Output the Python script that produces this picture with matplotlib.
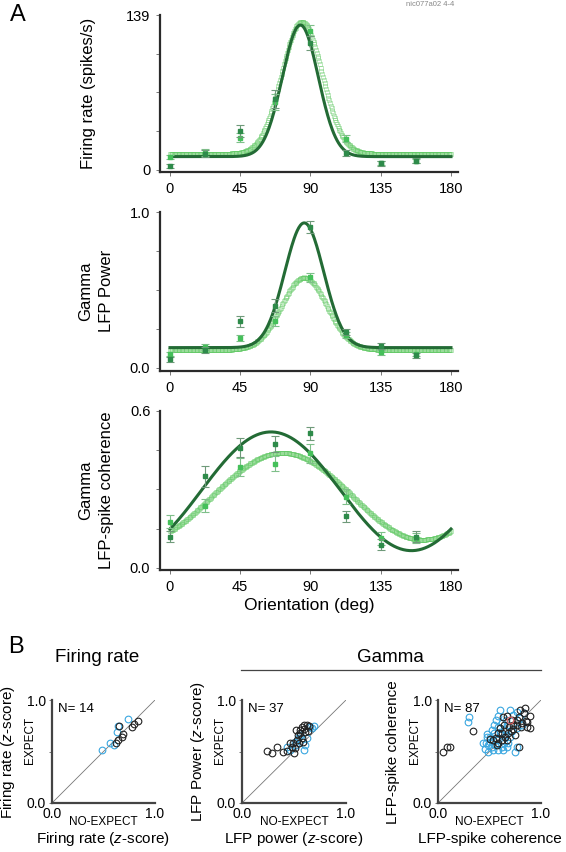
"""
Orientation tuning (panel A) and EXPECT vs NO-EXPECT scatter (panel B)
"""

import numpy as np
import matplotlib.pyplot as plt

plt.rcParams.update({
    "font.family": ["Liberation Sans", "DejaVu Sans"],
    "mathtext.fontset": "custom",
    "mathtext.it": "Liberation Sans:italic",
    "mathtext.rm": "Liberation Sans",
    "axes.linewidth": 1.6,
})

# data
ORI = [0, 22.5, 45, 67.5, 90, 112.5, 135, 157.5]

FR_DARK      = [3.6, 14.5, 35.0, 64.0, 114.0, 15.0, 6.0, 8.5]
FR_DARK_ERR  = [2.0, 3.0, 5.0, 8.0, 6.0, 2.5, 2.0, 2.0]
FR_LIGHT     = [11.7, 15.5, 29.0, 61.0, 125.0, 28.0, 6.5, 8.0]
FR_LIGHT_ERR = [2.0, 3.0, 4.0, 7.0, 5.0, 3.0, 2.0, 2.0]

LFP_DARK      = [0.055, 0.115, 0.30, 0.40, 0.905, 0.23, 0.14, 0.08]
LFP_DARK_ERR  = [0.015, 0.02, 0.035, 0.04, 0.04, 0.02, 0.02, 0.015]
LFP_LIGHT     = [0.09, 0.135, 0.19, 0.30, 0.58, 0.21, 0.10, 0.09]
LFP_LIGHT_ERR = [0.015, 0.02, 0.02, 0.03, 0.03, 0.02, 0.015, 0.015]

COH_DARK      = [0.12, 0.35, 0.46, 0.473, 0.514, 0.197, 0.089, 0.12]
COH_DARK_ERR  = [0.02, 0.04, 0.035, 0.03, 0.025, 0.02, 0.02, 0.02]
COH_LIGHT     = [0.177, 0.237, 0.386, 0.399, 0.438, 0.273, 0.114, 0.115]
COH_LIGHT_ERR = [0.025, 0.025, 0.035, 0.03, 0.035, 0.03, 0.025, 0.02]

# fit parameters: base, amplitude, centre (deg), width (deg)
FR_FIT_DARK   = [12.0, 118.0, 83.5, 11.5]
FR_FIT_LIGHT  = [14.5, 118.5, 84.5, 13.0]
LFP_FIT_DARK  = [0.13, 0.80, 86.0, 12.5]
LFP_FIT_LIGHT = [0.115, 0.465, 86.0, 14.5]
# coherence: base, amplitude, preferred orientation (deg)
COH_FIT_DARK  = [0.293, 0.227, 64.7]
COH_FIT_LIGHT = [0.274, 0.166, 72.0]

# panel B scatter (NO-EXPECT, EXPECT)
FR_BLUE_X  = [0.489, 0.563, 0.605, 0.628, 0.644, 0.735]
FR_BLUE_Y  = [0.515, 0.585, 0.563, 0.692, 0.750, 0.812]
FR_BLACK_X = [0.618, 0.637, 0.676, 0.692, 0.654, 0.773, 0.799, 0.832]
FR_BLACK_Y = [0.579, 0.612, 0.644, 0.667, 0.750, 0.741, 0.764, 0.796]

LFP_BLUE_X  = [0.43, 0.46, 0.51, 0.54, 0.596, 0.606, 0.622, 0.67, 0.692, 0.558, 0.52, 0.65]
LFP_BLUE_Y  = [0.54, 0.515, 0.595, 0.628, 0.515, 0.563, 0.628, 0.725, 0.748, 0.66, 0.56, 0.74]
LFP_BLACK_X = [0.243, 0.285, 0.34, 0.397, 0.436, 0.478, 0.494, 0.51, 0.526, 0.54, 0.558,
               0.519, 0.574, 0.596, 0.622, 0.647, 0.606, 0.574, 0.59, 0.46, 0.545, 0.5,
               0.56, 0.60, 0.63]
LFP_BLACK_Y = [0.508, 0.482, 0.547, 0.498, 0.508, 0.547, 0.58, 0.53, 0.612, 0.66, 0.709,
               0.709, 0.741, 0.757, 0.757, 0.748, 0.692, 0.628, 0.595, 0.585, 0.58, 0.482,
               0.68, 0.72, 0.70]

COH_BLUE_X = [0.303, 0.293, 0.456, 0.489, 0.466, 0.505, 0.472, 0.521, 0.544, 0.564, 0.586,
              0.603, 0.554, 0.586, 0.619, 0.642, 0.531, 0.570, 0.609, 0.651, 0.619, 0.661,
              0.700, 0.733, 0.765, 0.792, 0.831, 0.700, 0.749, 0.765, 0.684, 0.505, 0.544,
              0.586, 0.668, 0.765, 0.489, 0.635, 0.668, 0.440, 0.521, 0.814, 0.60, 0.53,
              0.72, 0.48, 0.66]
COH_BLUE_Y = [0.838, 0.789, 0.529, 0.497, 0.578, 0.643, 0.669, 0.708, 0.756, 0.805, 0.844,
              0.903, 0.562, 0.513, 0.539, 0.584, 0.513, 0.610, 0.659, 0.708, 0.773, 0.805,
              0.903, 0.854, 0.886, 0.821, 0.870, 0.643, 0.497, 0.545, 0.578, 0.594, 0.675,
              0.740, 0.756, 0.724, 0.562, 0.513, 0.545, 0.578, 0.545, 0.756, 0.69, 0.60,
              0.70, 0.64, 0.66]
COH_BLACK_X = [0.049, 0.088, 0.114, 0.342, 0.564, 0.586, 0.619, 0.651, 0.684, 0.726, 0.765,
               0.805, 0.863, 0.889, 0.837, 0.847, 0.896, 0.635, 0.668, 0.717, 0.782, 0.603,
               0.642, 0.694, 0.733, 0.570, 0.537, 0.619, 0.668, 0.782, 0.814, 0.863, 0.765,
               0.505, 0.710, 0.798, 0.58, 0.75, 0.85]
COH_BLACK_Y = [0.497, 0.545, 0.539, 0.701, 0.627, 0.578, 0.610, 0.643, 0.675, 0.714, 0.756,
               0.734, 0.789, 0.724, 0.870, 0.919, 0.844, 0.838, 0.844, 0.805, 0.838, 0.727,
               0.756, 0.740, 0.756, 0.562, 0.610, 0.675, 0.610, 0.539, 0.773, 0.740, 0.805,
               0.617, 0.701, 0.903, 0.68, 0.66, 0.80]
COH_RED_X = [0.70]
COH_RED_Y = [0.805]

DARK_LINE  = '#236b35'
DARK_PT    = '#2e8b4a'
LIGHT_LINE = '#62c965'
LIGHT_PT   = '#45c05a'
BLUE       = '#3aa7e0'
SPINE      = '#2a2a2a'

def gauss(th, p):
    return p[0] + p[1] * np.exp(-(th - p[2])**2 / (2 * p[3]**2))

def cosfit(th, p):
    return p[0] + p[1] * np.cos(np.deg2rad(2 * (th - p[2])))

W, H = 566, 852
fig = plt.figure(figsize=(W / 100, H / 100), dpi=100)

def rect(x0, y0, x1, y1):
    return [x0 / W, 1 - y1 / H, (x1 - x0) / W, (y1 - y0) / H]

def style_tuning(ax, ymax, ylabels):
    for s in ('top', 'right'):
        ax.spines[s].set_visible(False)
    for s in ('left', 'bottom'):
        ax.spines[s].set_color(SPINE)
    ax.set_xlim(-6.4, 184.5)
    ax.set_xticks([0, 45, 90, 135, 180])
    ax.set_yticks(np.linspace(0, ymax, 5))
    ax.set_yticklabels([ylabels[0], '', '', '', ylabels[1]])
    ax.tick_params(direction='out', length=3, width=0.7, color='#777777',
                   labelsize=10.5, pad=4)

th = np.linspace(0, 180, 361)
panels = [
    (rect(160, 15, 458, 172), 139, ('0', '139'), (-1.8, 139),
     FR_DARK, FR_DARK_ERR, FR_LIGHT, FR_LIGHT_ERR,
     gauss(th, FR_FIT_DARK), gauss(th, FR_FIT_LIGHT)),
    (rect(160, 212, 458, 371), 1.0, ('0.0', '1.0'), (-0.02, 1.0),
     LFP_DARK, LFP_DARK_ERR, LFP_LIGHT, LFP_LIGHT_ERR,
     gauss(th, LFP_FIT_DARK), gauss(th, LFP_FIT_LIGHT)),
    (rect(160, 411, 458, 570), 0.6, ('0.0', '0.6'), (-0.008, 0.6),
     COH_DARK, COH_DARK_ERR, COH_LIGHT, COH_LIGHT_ERR,
     cosfit(th, COH_FIT_DARK), cosfit(th, COH_FIT_LIGHT)),
]

axes_a = []
for r, ymax, ylab, ylim, yd, ed, yl, el, fd, fl in panels:
    ax = fig.add_axes(r)
    ax.plot(th, fl, linestyle='none', marker='s', ms=3.0, mfc='none',
            mec=LIGHT_LINE, mew=0.45, alpha=0.65, zorder=2)
    ax.plot(th, fd, color=DARK_LINE, lw=2.2, zorder=3)
    ax.errorbar(ORI, yl, yerr=el, fmt='s', ms=3.5, color=LIGHT_PT,
                ecolor='#7fbf8a', elinewidth=0.8, capsize=3, capthick=0.8, zorder=4)
    ax.errorbar(ORI, yd, yerr=ed, fmt='s', ms=3.5, color=DARK_PT,
                ecolor='#6f9a7a', elinewidth=0.8, capsize=3, capthick=0.8, zorder=5)
    ax.set_ylim(*ylim)
    style_tuning(ax, ymax, ylab)
    axes_a.append(ax)

axes_a[2].set_xlabel('Orientation (deg)', fontsize=12.5, labelpad=3)

fig.text(88 / W, 1 - 93 / H, 'Firing rate (spikes/s)', rotation=90,
         ha='center', va='center', fontsize=12)
fig.text(96 / W, 1 - 291 / H, 'Gamma\nLFP Power', rotation=90, ha='center',
         va='center', fontsize=12, linespacing=1.45, multialignment='center')
fig.text(96 / W, 1 - 490 / H, 'Gamma\nLFP-spike coherence', rotation=90, ha='center',
         va='center', fontsize=12, linespacing=1.45, multialignment='center')

fig.text(10 / W, 1 - 15 / H, 'A', fontsize=17, ha='left', va='center')
fig.text(430 / W, 1 - 5 / H, 'nic077a02 4-4', fontsize=5.5, color='#888888',
         ha='center', va='center')

# panel B
fig.text(8 / W, 1 - 647 / H, 'B', fontsize=17, ha='left', va='center')
fig.text(97 / W, 1 - 657 / H, 'Firing rate', fontsize=13.5, ha='center', va='center')
fig.text(390 / W, 1 - 657 / H, 'Gamma', fontsize=13.5, ha='center', va='center')
fig.add_artist(plt.Line2D([241 / W, 541 / W], [1 - 670 / H, 1 - 670 / H],
                          color='#444444', lw=0.9))

scatter_panels = [
    (rect(52, 700, 155, 803), 'N= 14', r'Firing rate ($\mathit{z}$-score)',
     r'Firing rate ($\mathit{z}$-score)', 8, 30,
     FR_BLUE_X, FR_BLUE_Y, FR_BLACK_X, FR_BLACK_Y, [], []),
    (rect(242, 700, 346, 803), 'N= 37', r'LFP Power ($\mathit{z}$-score)',
     r'LFP power ($\mathit{z}$-score)', 198, 220,
     LFP_BLUE_X, LFP_BLUE_Y, LFP_BLACK_X, LFP_BLACK_Y, [], []),
    (rect(438, 700, 541, 803), 'N= 87', 'LFP-spike coherence',
     'LFP-spike coherence', 393, 415,
     COH_BLUE_X, COH_BLUE_Y, COH_BLACK_X, COH_BLACK_Y, COH_RED_X, COH_RED_Y),
]

for r, ntxt, ylab, xlab, ylx, exx, bx, by, kx, ky, rx, ry in scatter_panels:
    ax = fig.add_axes(r)
    for s in ('top', 'right'):
        ax.spines[s].set_visible(False)
    for s in ('left', 'bottom'):
        ax.spines[s].set_color('#444444')
    ax.set_xlim(0, 1)
    ax.set_ylim(0, 1)
    ax.plot([0, 1], [0, 1], color='#777777', lw=0.6, zorder=1)
    ax.plot(bx, by, 'o', ms=4.8, mfc='none', mec=BLUE, mew=0.8, zorder=2)
    ax.plot(kx, ky, 'o', ms=4.8, mfc='none', mec='#222222', mew=0.8, zorder=3)
    if rx:
        ax.plot(rx, ry, 'o', ms=4.8, mfc='none', mec='#e06060', mew=0.8, zorder=4)
    ax.set_xticks([0, 1])
    ax.set_xticklabels(['0.0', '1.0'])
    ax.set_yticks([0, 0.5, 1])
    ax.set_yticklabels(['0.0', '', '1.0'])
    ax.tick_params(axis='x', length=0, labelsize=10, pad=3)
    ax.tick_params(axis='y', direction='out', length=2.5, width=0.7,
                   color='#777777', labelsize=10, pad=2)
    ax.text(0.06, 0.91, ntxt, transform=ax.transAxes, fontsize=9.5,
            ha='left', va='center')
    cx = (r[0] + r[2] / 2)
    fig.text(cx, 1 - 822 / H, 'NO-EXPECT', fontsize=8.5, ha='center', va='center')
    fig.text(cx, 1 - 839 / H, xlab, fontsize=11, ha='center', va='center')
    fig.text(ylx / W, 1 - 752 / H, ylab, rotation=90, fontsize=11,
             ha='center', va='center')
    fig.text(exx / W, 1 - 740 / H, 'EXPECT', rotation=90, fontsize=8.5,
             ha='center', va='center')

plt.savefig('out.png', dpi=100)
